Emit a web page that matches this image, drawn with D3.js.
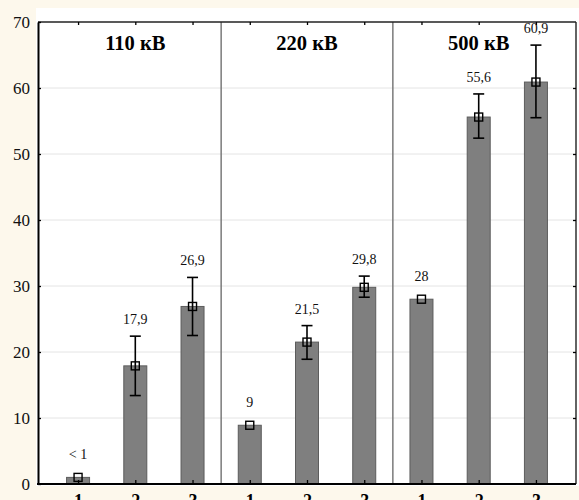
<!DOCTYPE html>
<html>
<head>
<meta charset="utf-8">
<script src="https://cdn.jsdelivr.net/npm/d3@7"></script>
<style>
  html, body { margin: 0; padding: 0; background: #fdf8ec; }
  svg { display: block; }
</style>
</head>
<body>
<svg id="chart" width="579" height="500"></svg>
<script>
// ---- data ----
const groups = ["110 кВ", "220 кВ", "500 кВ"];
const categories = ["1", "2", "3"];
const values = [1.0, 17.9, 26.9, 8.9, 21.5, 29.8, 28.0, 55.6, 60.9];
const errLow = [null, 13.4, 22.5, null, 18.9, 28.3, null, 52.4, 55.5];
const errHigh = [null, 22.4, 31.3, null, 24.0, 31.5, null, 59.1, 66.5];
const valueLabels = ["< 1", "17,9", "26,9", "9", "21,5", "29,8", "28", "55,6", "60,9"];
const yTicks = [0, 10, 20, 30, 40, 50, 60, 70];

(function () {
// ---- layout ----
const W = 579, H = 500;
const mLeft = 38, mRight = 576, mTop = 22, mBottom = 484;
const serif = "'Liberation Serif', 'Times New Roman', serif";

const svg = d3.select("#chart");

const rows = values.map((v, i) => ({
  i, v,
  group: Math.floor(i / categories.length),
  cat: categories[i % categories.length],
  lo: errLow[i], hi: errHigh[i],
  label: valueLabels[i]
}));

const x = d3.scalePoint().domain(rows.map(d => d.i)).range([mLeft, mRight]).padding(0.7);
const y = d3.scaleLinear().domain([0, 70]).range([mBottom, mTop]);
const barW = 23;

// background regions
svg.append("rect").attr("x", 0).attr("y", 0).attr("width", W).attr("height", H).attr("fill", "#fdf8ec");
svg.append("rect").attr("x", 36).attr("y", 8).attr("width", W - 36).attr("height", mBottom - 8 + 2).attr("fill", "#ffffff");

// grid
svg.append("g").selectAll("line").data(yTicks.filter(t => t > 0 && t < 70)).join("line")
  .attr("x1", mLeft).attr("x2", mRight)
  .attr("y1", d => y(d)).attr("y2", d => y(d))
  .attr("stroke", "#e4e4e4").attr("stroke-width", 1);

// group separators
const step = x.step();
const seps = d3.range(1, groups.length).map(g => x(g * categories.length) - step / 2);
svg.append("g").selectAll("line").data(seps).join("line")
  .attr("x1", d => d).attr("x2", d => d)
  .attr("y1", mTop).attr("y2", mBottom)
  .attr("stroke", "#7a7a7a").attr("stroke-width", 1.5);

// bars
svg.append("g").selectAll("rect").data(rows).join("rect")
  .attr("x", d => x(d.i) - barW / 2)
  .attr("y", d => y(d.v))
  .attr("width", barW)
  .attr("height", d => y(0) - y(d.v))
  .attr("fill", "#7f7f7f")
  .attr("stroke", "#5c5c5c")
  .attr("stroke-width", 1);

// error bars
const eb = svg.append("g").attr("stroke", "#000").attr("stroke-width", 1.6);
rows.filter(d => d.lo != null).forEach(d => {
  const cx = x(d.i);
  eb.append("line").attr("x1", cx).attr("x2", cx).attr("y1", y(d.hi)).attr("y2", y(d.lo));
  eb.append("line").attr("x1", cx - 5.5).attr("x2", cx + 5.5).attr("y1", y(d.hi)).attr("y2", y(d.hi));
  eb.append("line").attr("x1", cx - 5.5).attr("x2", cx + 5.5).attr("y1", y(d.lo)).attr("y2", y(d.lo));
});

// mean markers
svg.append("g").selectAll("rect").data(rows).join("rect")
  .attr("x", d => x(d.i) - 4)
  .attr("y", d => y(d.v) - 4)
  .attr("width", 8).attr("height", 8)
  .attr("fill", "none")
  .attr("stroke", "#000").attr("stroke-width", 1.4);

// value labels
svg.append("g").selectAll("text").data(rows).join("text")
  .attr("x", d => x(d.i))
  .attr("y", d => d.hi != null ? y(d.hi) - 12 : y(d.v) - 18)
  .attr("text-anchor", "middle")
  .attr("font-family", serif)
  .attr("font-size", 14)
  .attr("fill", "#111")
  .text(d => d.label);

// group titles
svg.append("g").selectAll("text").data(groups).join("text")
  .attr("x", (d, g) => x(g * categories.length + 1))
  .attr("y", 50)
  .attr("text-anchor", "middle")
  .attr("font-family", serif)
  .attr("font-weight", "bold")
  .attr("font-size", 20.5)
  .attr("fill", "#000")
  .text(d => d);

// frame
svg.append("line").attr("x1", mLeft).attr("x2", mRight).attr("y1", mTop).attr("y2", mTop)
  .attr("stroke", "#222").attr("stroke-width", 1.4);
svg.append("line").attr("x1", mRight).attr("x2", mRight).attr("y1", mTop).attr("y2", mBottom)
  .attr("stroke", "#222").attr("stroke-width", 1.4);

// left axis
const yAxis = svg.append("g").attr("transform", `translate(${mLeft},0)`)
  .call(d3.axisLeft(y).tickValues(yTicks).tickSizeInner(-3).tickSizeOuter(0).tickPadding(8).tickFormat(d3.format("d")));
yAxis.select(".domain").attr("stroke", "#000").attr("stroke-width", 2);
yAxis.selectAll(".tick line").attr("stroke", "#000").attr("stroke-width", 1.3);
yAxis.selectAll(".tick text").attr("font-family", serif).attr("font-size", 17).attr("fill", "#111");

// right axis ticks (inward)
const yAxisR = svg.append("g").attr("transform", `translate(${mRight},0)`)
  .call(d3.axisRight(y).tickValues(yTicks.filter(t => t > 0 && t < 70)).tickSizeInner(-3).tickSizeOuter(0).tickFormat(""));
yAxisR.select(".domain").remove();
yAxisR.selectAll(".tick line").attr("stroke", "#000").attr("stroke-width", 1.3);

// bottom axis
const xAxis = svg.append("g").attr("transform", `translate(0,${mBottom})`)
  .call(d3.axisBottom(x).tickSizeInner(-4).tickSizeOuter(0).tickPadding(10)
    .tickFormat(i => categories[i % categories.length]));
xAxis.select(".domain").attr("stroke", "#000").attr("stroke-width", 2)
  .attr("d", `M${mLeft - 1},0H${mRight}`);
xAxis.selectAll(".tick line").attr("stroke", "#000").attr("stroke-width", 1.3);
xAxis.selectAll(".tick text").attr("font-family", serif).attr("font-weight", "bold")
  .attr("font-size", 18).attr("fill", "#000");

// top axis ticks (inward)
const xAxisT = svg.append("g").attr("transform", `translate(0,${mTop})`)
  .call(d3.axisTop(x).tickSizeInner(-3).tickSizeOuter(0).tickFormat(""));
xAxisT.select(".domain").remove();
xAxisT.selectAll(".tick line").attr("stroke", "#000").attr("stroke-width", 1.3);
})();
</script>
</body>
</html>
